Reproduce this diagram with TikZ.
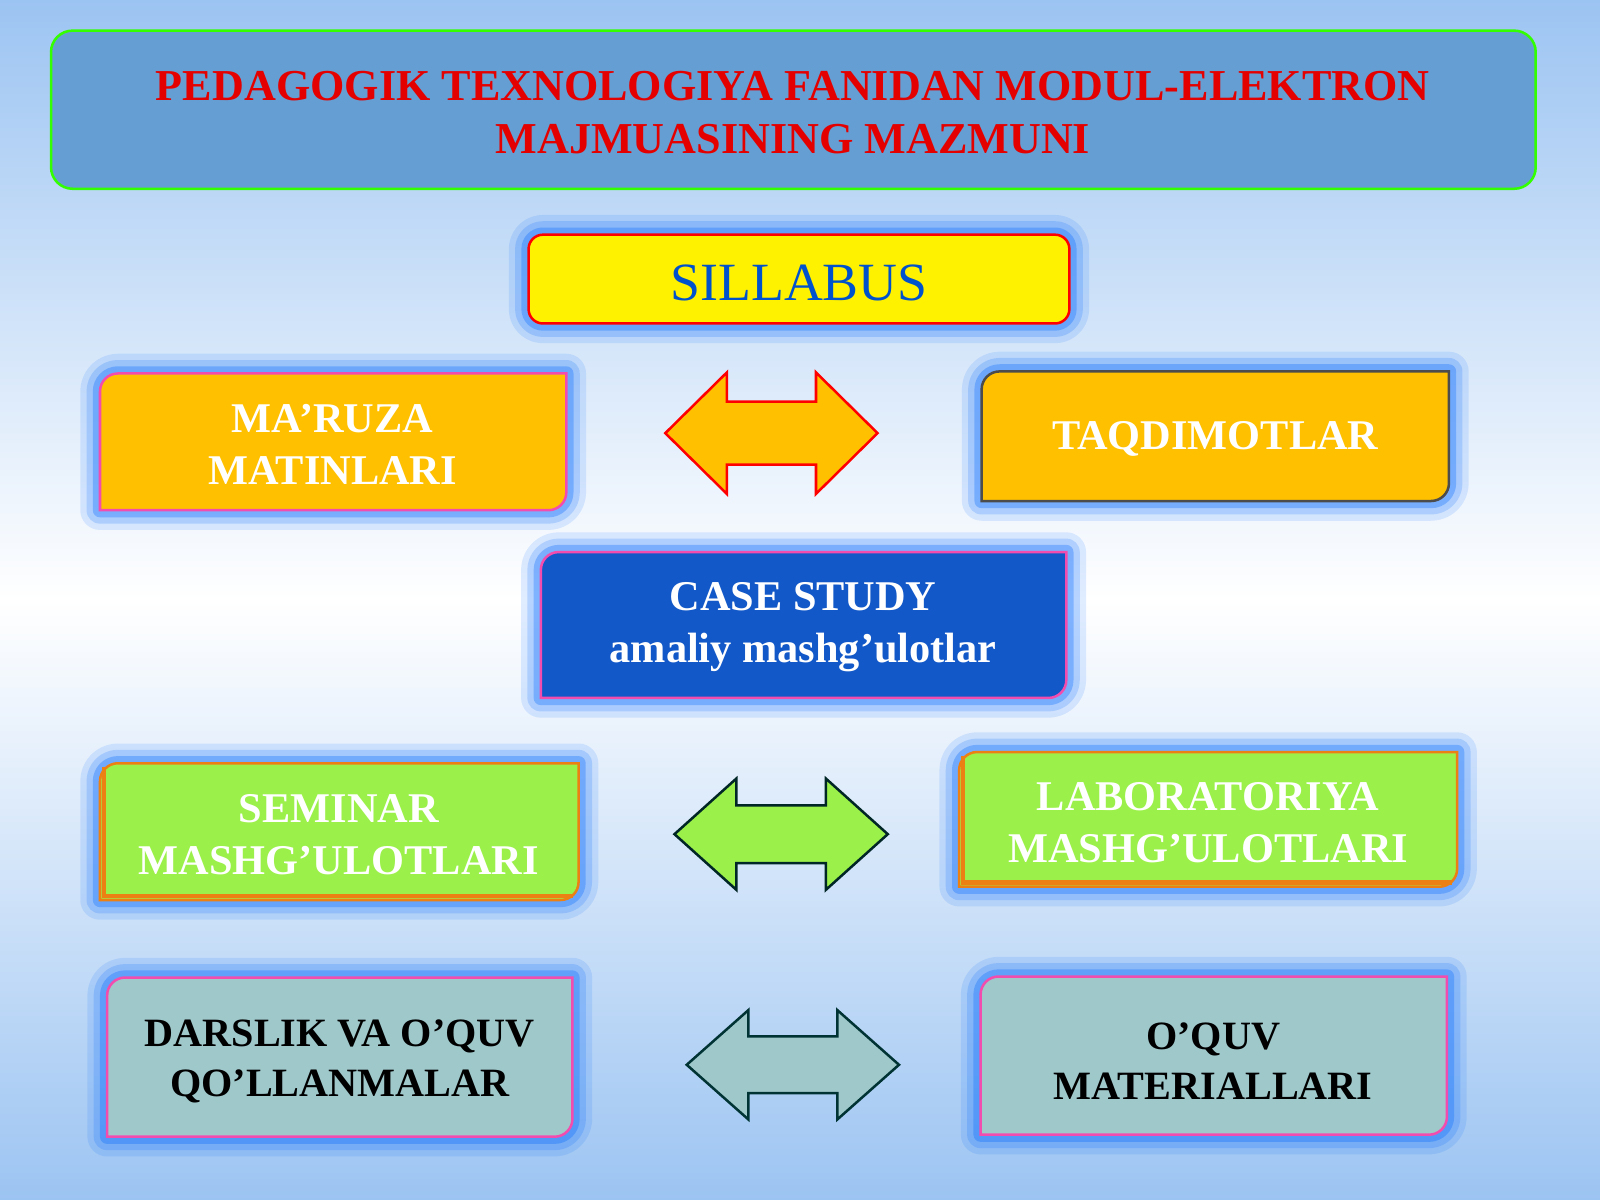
\documentclass[tikz,border=0pt]{standalone}
\usepackage{fontspec}
\setmainfont{Liberation Serif}
\begin{document}
\begin{tikzpicture}[x=0.01cm,y=-0.01cm,
  glow/.style={draw=blue!60!cyan,line join=round},
  txt/.style={font=\bfseries\fontsize{11.8}{14.5}\selectfont,align=center,text=white}]
\definecolor{bgb}{HTML}{9CC4F2}
\definecolor{org}{HTML}{FFC000}
\definecolor{grn}{HTML}{9CF04A}
\definecolor{tea}{HTML}{9FC8CB}
\definecolor{cs}{HTML}{1258C8}
\definecolor{ttl}{HTML}{659ED2}
\useasboundingbox (0,0) rectangle (1568,1176);
\shade[top color=bgb,bottom color=bgb,middle color=white] (0,0) rectangle (1568,1176);
\newcommand\mybox[6]{% x1 y1 x2 y2 fill draw
  \foreach \w/\o in {11/0.12,7.5/0.18,4/0.3}{
   \draw[glow,line width=\w pt,opacity=\o] (#1,#4) -- (#1,#2+18) [rounded corners=5pt] -- (#1,#2) [sharp corners] -- (#3,#2) -- (#3,#4-18) [rounded corners=5pt] -- (#3,#4) [sharp corners] -- cycle;}
  \filldraw[fill=#5,draw=#6,line width=0.7pt] (#1,#4) -- (#1,#2+18) [rounded corners=5pt] -- (#1,#2) [sharp corners] -- (#3,#2) -- (#3,#4-18) [rounded corners=5pt] -- (#3,#4) [sharp corners] -- cycle;}
\newcommand\dar[5]{% xleft ytop xright ybottom style
  \pgfmathsetmacro\hw{0.29*(#3-#1)}\pgfmathsetmacro\sh{0.24*(#4-#2)}
  \filldraw[fill=#5,line width=0.7pt,line join=miter] (#1,{(#2+#4)/2}) -- (#1+\hw,#2) -- (#1+\hw,#2+\sh) -- (#3-\hw,#2+\sh) -- (#3-\hw,#2) -- (#3,{(#2+#4)/2}) -- (#3-\hw,#4) -- (#3-\hw,#4-\sh) -- (#1+\hw,#4-\sh) -- (#1+\hw,#4) -- cycle;}
% title
\filldraw[fill=ttl,draw=green!80!yellow,line width=0.7pt,rounded corners=6pt] (50,30) rectangle (1505,185);
\node[font=\bfseries\fontsize{12.3}{14.8}\selectfont,text=red!90!black,align=center] (title) at (777,110) {PEDAGOGIK TEXNOLOGIYA FANIDAN MODUL-ELEKTRON\\MAJMUASINING MAZMUNI};
% sillabus
\foreach \w/\o in {11/0.12,7.5/0.18,4/0.3}
 \draw[glow,line width=\w pt,opacity=\o,rounded corners=4pt] (518,230) rectangle (1048,317);
\filldraw[fill=yellow,draw=red,line width=0.7pt,rounded corners=4pt] (518,230) rectangle (1048,317);
\node[font=\fontsize{15}{18}\selectfont,text=blue!60!cyan!80!black] (sil) at (783,277) {SILLABUS};
% row 1
\mybox{98}{366}{555}{500}{org}{magenta!70}
\node[txt] (mar) at (326,436) {MA’RUZA\\MATINLARI};
\dar{652}{365}{860}{484}{org,draw=red}
\mybox{962}{364}{1420}{491}{org}{black!70}
\node[txt] (taq) at (1191,430) {TAQDIMOTLAR};
% case
\mybox{530}{541}{1045}{684}{cs}{magenta!70}
\node[txt] (case) at (787,615) {CASE STUDY\\amaliy mashg’ulotlar};
% row 2
\mybox{98}{748}{567}{882}{grn}{orange!70!brown}
\draw[orange!70!brown,line width=1.2pt] (102,752) -- (102,878) -- (562,878);
\node[txt] (sem) at (332,818) {SEMINAR\\MASHG’ULOTLARI};
\dar{661}{763}{870}{872}{grn,draw=black!70!teal}
\mybox{940}{737}{1428}{869}{grn}{orange!70!brown}
\draw[orange!70!brown,line width=1.2pt] (944,741) -- (944,865) -- (1423,865);
\node[txt] (lab) at (1184,806) {LABORATORIYA\\MASHG’ULOTLARI};
% row 3
\mybox{105}{958}{561}{1114}{tea}{magenta!70}
\node[txt,text=black,font=\bfseries\fontsize{11.2}{14}\selectfont] (dar) at (333,1040) {DARSLIK VA O’QUV\\QO’LLANMALAR};
\dar{673}{990}{881}{1097}{tea,draw=black!60!teal}
\mybox{961}{957}{1418}{1112}{tea}{magenta!70}
\node[txt,text=black,font=\bfseries\fontsize{11.2}{14}\selectfont] (oq) at (1189,1040) {O’QUV\\MATERIALLARI};
\end{tikzpicture}
\end{document}
